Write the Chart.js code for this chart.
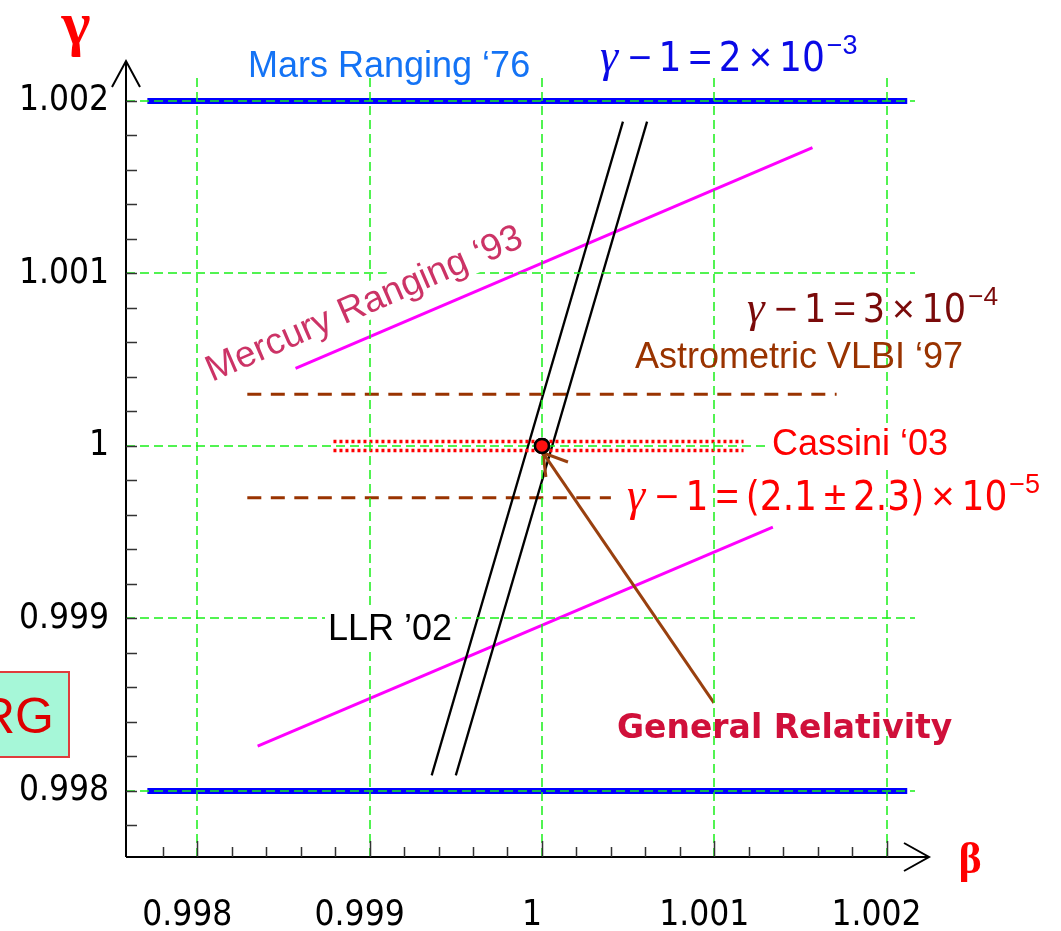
<!DOCTYPE html>
<html>
<head>
<meta charset="utf-8">
<script src="https://cdn.jsdelivr.net/npm/chart.js@4/dist/chart.umd.min.js"></script>
<style>
  html, body { margin: 0; padding: 0; background: #fff; }
  #wrap { width: 1061px; height: 931px; position: relative; }
</style>
</head>
<body>
<div id="wrap"><canvas id="ppnChart"></canvas></div>
<script>
// axis ticks
const betaTicks = [0.998, 0.999, 1, 1.001, 1.002];
const betaLabels = ['0.998', '0.999', '1', '1.001', '1.002'];
const gammaTicks = [0.998, 0.999, 1, 1.001, 1.002];
const gammaLabels = ['0.998', '0.999', '1', '1.001', '1.002'];
const betaMinor = [0.9978, 0.998, 0.9982, 0.9984, 0.9986, 0.9988, 0.999, 0.9992, 0.9994, 0.9996, 0.9998,
    1, 1.0002, 1.0004, 1.0006, 1.0008, 1.001, 1.0012, 1.0014, 1.0016, 1.0018, 1.002];
const gammaMinor = [0.9978, 0.998, 0.9982, 0.9984, 0.9986, 0.9988, 0.999, 0.9992, 0.9994, 0.9996, 0.9998,
    1, 1.0002, 1.0004, 1.0006, 1.0008, 1.001, 1.0012, 1.0014, 1.0016, 1.0018, 1.002];

// Mars ranging '76 bounds
const marsBeta = [0.99771, 1.00212];
const marsGammaHigh = [1.002, 1.002];
const marsGammaLow = [0.998, 0.998];

// Mercury ranging '93
const mercuryHighBeta = [0.99857, 1.00157];
const mercuryHighGamma = [1.00045, 1.00173];
const mercuryLowBeta = [0.99835, 1.00134];
const mercuryLowGamma = [0.99826, 0.99953];

// LLR '02
const llrLeftBeta = [0.99936, 1.00047];
const llrRightBeta = [0.99950, 1.00061];
const llrGamma = [0.99809, 1.00188];

// Astrometric VLBI '97
const vlbiHighBeta = [0.99829, 1.00171];
const vlbiHighGamma = [1.0003, 1.0003];
const vlbiLowBeta = [0.99829, 1.0004];
const vlbiLowGamma = [0.9997, 0.9997];

// Cassini '03
const cassiniBeta = [0.99879, 1.00117];
const cassiniHighGamma = [1.000026, 1.000026];
const cassiniLowGamma = [0.999973, 0.999973];

// General Relativity point and arrow
const grBeta = [1];
const grGamma = [1];
const arrowBeta = [1.000998, 1.000006];
const arrowGamma = [0.99851, 0.99996];
const arrowHeadBeta = [1.000151, 1.000006, 1.000023];
const arrowHeadGamma = [0.999907, 0.99996, 0.99982];

const pts = (xs, ys) => xs.map((v, i) => ({ x: v, y: ys[i] }));

const NUM_FONT = '"DejaVu Sans Condensed", "DejaVu Sans"';
const SANS = '"Liberation Sans", Arial';
const gridGreen = '#19f019';

function lineSet(data, color, width, dash) {
    return {
        data: data,
        showLine: true,
        borderColor: color,
        backgroundColor: color,
        borderWidth: width,
        borderDash: dash || [],
        pointRadius: 0,
        fill: false
    };
}

function drawMath(ctx, x, base, size, color, tokens) {
    const s = size / 40;
    let cx = x;
    ctx.fillStyle = color;
    ctx.textAlign = 'left';
    ctx.textBaseline = 'alphabetic';
    tokens.forEach(([t, kind]) => {
        let font, dy = 0, padL = 0, padR = 0;
        if (kind === 'g') { font = `italic ${46 * s}px "Liberation Serif"`; padR = 3 * s; }
        else if (kind === 'op') { font = `${40 * s}px ${SANS}`; padL = 7 * s; padR = 7 * s; }
        else if (kind === 'sup') { font = `${27 * s}px ${SANS}`; dy = -17 * s; padL = 2 * s; }
        else font = `${40 * s}px ${NUM_FONT}`;
        ctx.font = font;
        cx += padL;
        ctx.fillText(t, cx, base + dy);
        cx += ctx.measureText(t).width + padR;
    });
}

function boxedText(ctx, text, x, base, font, color) {
    ctx.font = font;
    const w = ctx.measureText(text).width;
    ctx.fillStyle = '#fff';
    ctx.fillRect(x - 3, base - 30, w + 6, 40);
    ctx.fillStyle = color;
    ctx.fillText(text, x, base);
}

const overlay = {
    id: 'overlay',
    afterDatasetsDraw(chart) {
        const { ctx, chartArea, scales: { x, y } } = chart;
        ctx.save();
        // dashed green grid, drawn over the data like the original
        ctx.strokeStyle = gridGreen;
        ctx.lineWidth = 1.5;
        ctx.setLineDash([9, 5]);
        ctx.beginPath();
        betaTicks.forEach(v => {
            const px = Math.round(x.getPixelForValue(v));
            ctx.moveTo(px, chartArea.top);
            ctx.lineTo(px, chartArea.bottom);
        });
        gammaTicks.forEach(v => {
            const py = Math.round(y.getPixelForValue(v));
            ctx.moveTo(chartArea.left, py);
            ctx.lineTo(chartArea.right, py);
        });
        ctx.stroke();
        ctx.restore();
        // GR point stays on top of the grid
        chart.getDatasetMeta(0).data.forEach(pt => pt.draw(ctx, chartArea));
    },
    afterDraw(chart) {
        const { ctx, chartArea, scales: { x, y } } = chart;
        const left = chartArea.left, bottom = chartArea.bottom;
        ctx.save();

        // axes with arrows
        ctx.strokeStyle = '#000';
        ctx.lineWidth = 2;
        ctx.beginPath();
        ctx.moveTo(left, bottom);
        ctx.lineTo(left, 61);
        ctx.moveTo(left - 14, 87);
        ctx.lineTo(left, 61);
        ctx.lineTo(left + 14, 87);
        ctx.moveTo(left, bottom);
        ctx.lineTo(929, bottom);
        ctx.moveTo(904, bottom - 14);
        ctx.lineTo(929, bottom);
        ctx.lineTo(904, bottom + 14);
        ctx.stroke();

        // minor ticks
        ctx.strokeStyle = '#333';
        ctx.lineWidth = 1.5;
        ctx.beginPath();
        betaMinor.forEach(v => {
            const px = Math.round(x.getPixelForValue(v)) + 0.5;
            const len = betaTicks.some(t => Math.abs(t - v) < 1e-9) ? 16 : 10;
            ctx.moveTo(px, bottom);
            ctx.lineTo(px, bottom - len);
        });
        gammaMinor.forEach(v => {
            const py = Math.round(y.getPixelForValue(v)) + 0.5;
            ctx.moveTo(left, py);
            ctx.lineTo(left + 11, py);
        });
        ctx.stroke();

        // axis symbols
        ctx.fillStyle = '#ff0000';
        ctx.textAlign = 'center';
        ctx.textBaseline = 'alphabetic';
        ctx.font = 'bold 62px "Liberation Serif"';
        ctx.fillText('γ', 76, 44);
        ctx.font = 'bold 44px "Liberation Serif"';
        ctx.fillText('β', 970, 873);

        ctx.textAlign = 'left';
        ctx.font = `36px ${SANS}`;
        ctx.fillStyle = '#1473f5';
        ctx.fillText('Mars Ranging ‘76', 248, 77);

        drawMath(ctx, 600, 71, 40, '#0a0ae6', [['γ', 'g'], ['−', 'op'], ['1', 'n'], ['=', 'op'], ['2', 'n'], ['×', 'op'], ['10', 'n'], ['−3', 'sup']]);
        drawMath(ctx, 747, 322, 39, '#7a0a0a', [['γ', 'g'], ['−', 'op'], ['1', 'n'], ['=', 'op'], ['3', 'n'], ['×', 'op'], ['10', 'n'], ['−4', 'sup']]);
        drawMath(ctx, 627, 510, 40, '#ff0000', [['γ', 'g'], ['−', 'op'], ['1', 'n'], ['=', 'op'], ['(2.1', 'n'], ['±', 'op'], ['2.3)', 'n'], ['×', 'op'], ['10', 'n'], ['−5', 'sup']]);

        ctx.fillStyle = '#993300';
        ctx.font = `36px ${SANS}`;
        ctx.fillText('Astrometric VLBI ‘97', 635, 368);

        boxedText(ctx, 'Cassini ‘03', 772, 455, `36px ${SANS}`, '#ff0000');
        boxedText(ctx, 'LLR ’02', 328, 640, `36px ${SANS}`, '#000');

        // rotated Mercury label
        ctx.save();
        ctx.translate(212, 382);
        ctx.rotate(-23.5 * Math.PI / 180);
        ctx.font = `37px ${SANS}`;
        const mw = ctx.measureText('Mercury Ranging ‘93').width;
        ctx.fillStyle = '#fff';
        ctx.fillRect(-3, -30, mw + 6, 36);
        ctx.fillStyle = '#cc3366';
        ctx.fillText('Mercury Ranging ‘93', 0, 0);
        ctx.restore();

        ctx.fillStyle = '#d0103a';
        ctx.font = 'bold 33px "DejaVu Sans"';
        ctx.fillText('General Relativity', 617, 738);

        // RG box at the left edge
        ctx.fillStyle = '#a6f7d8';
        ctx.fillRect(-10, 672, 79, 85);
        ctx.strokeStyle = '#e03c3c';
        ctx.lineWidth = 2;
        ctx.strokeRect(-10, 672, 79, 85);
        ctx.fillStyle = '#dd0000';
        ctx.font = `50px ${SANS}`;
        ctx.textAlign = 'right';
        ctx.fillText('RG', 54, 733);

        ctx.restore();
    }
};

new Chart(document.getElementById('ppnChart'), {
    type: 'scatter',
    data: {
        datasets: [
            {
                data: pts(grBeta, grGamma),
                pointRadius: 7,
                pointBackgroundColor: '#ff1010',
                pointBorderColor: '#000',
                pointBorderWidth: 2.5,
                showLine: false
            },
            lineSet(pts(arrowHeadBeta, arrowHeadGamma), '#99400f', 3),
            lineSet(pts(arrowBeta, arrowGamma), '#99400f', 3),
            lineSet(pts(cassiniBeta, cassiniHighGamma), '#ff0000', 3.5, [3, 3]),
            lineSet(pts(cassiniBeta, cassiniLowGamma), '#ff0000', 3.5, [3, 3]),
            lineSet(pts(llrLeftBeta, llrGamma), '#000', 2.3),
            lineSet(pts(llrRightBeta, llrGamma), '#000', 2.3),
            lineSet(pts(vlbiHighBeta, vlbiHighGamma), '#993300', 3, [14, 9.5]),
            lineSet(pts(vlbiLowBeta, vlbiLowGamma), '#993300', 3, [14, 9.5]),
            lineSet(pts(mercuryHighBeta, mercuryHighGamma), '#ff00ff', 3),
            lineSet(pts(mercuryLowBeta, mercuryLowGamma), '#ff00ff', 3),
            lineSet(pts(marsBeta, marsGammaHigh), '#0000ff', 6),
            lineSet(pts(marsBeta, marsGammaLow), '#0000ff', 6)
        ]
    },
    options: {
        responsive: true,
        maintainAspectRatio: false,
        animation: false,
        events: [],
        layout: { padding: { top: 78, right: 146, left: 0, bottom: 0 } },
        plugins: {
            legend: { display: false },
            tooltip: { enabled: false }
        },
        scales: {
            x: {
                type: 'linear',
                min: 0.997586,
                max: 1.002165,
                afterBuildTicks: s => { s.ticks = betaTicks.map(v => ({ value: v })); },
                afterFit: s => { s.height = 74; },
                grid: { display: false, drawTicks: false },
                border: { display: false },
                ticks: {
                    padding: 38,
                    labelOffset: -10,
                    maxRotation: 0,
                    autoSkip: false,
                    color: '#000',
                    font: { family: NUM_FONT, size: 35 },
                    callback: (v, i) => betaLabels[i]
                }
            },
            y: {
                type: 'linear',
                min: 0.997617,
                max: 1.002133,
                afterBuildTicks: s => { s.ticks = gammaTicks.map(v => ({ value: v })); },
                afterFit: s => { s.width = 126; },
                grid: { display: false, drawTicks: false },
                border: { display: false },
                ticks: {
                    padding: 17,
                    autoSkip: false,
                    color: '#000',
                    font: { family: NUM_FONT, size: 35 },
                    callback: (v, i) => gammaLabels[i]
                }
            }
        }
    },
    plugins: [overlay]
});
</script>
</body>
</html>
